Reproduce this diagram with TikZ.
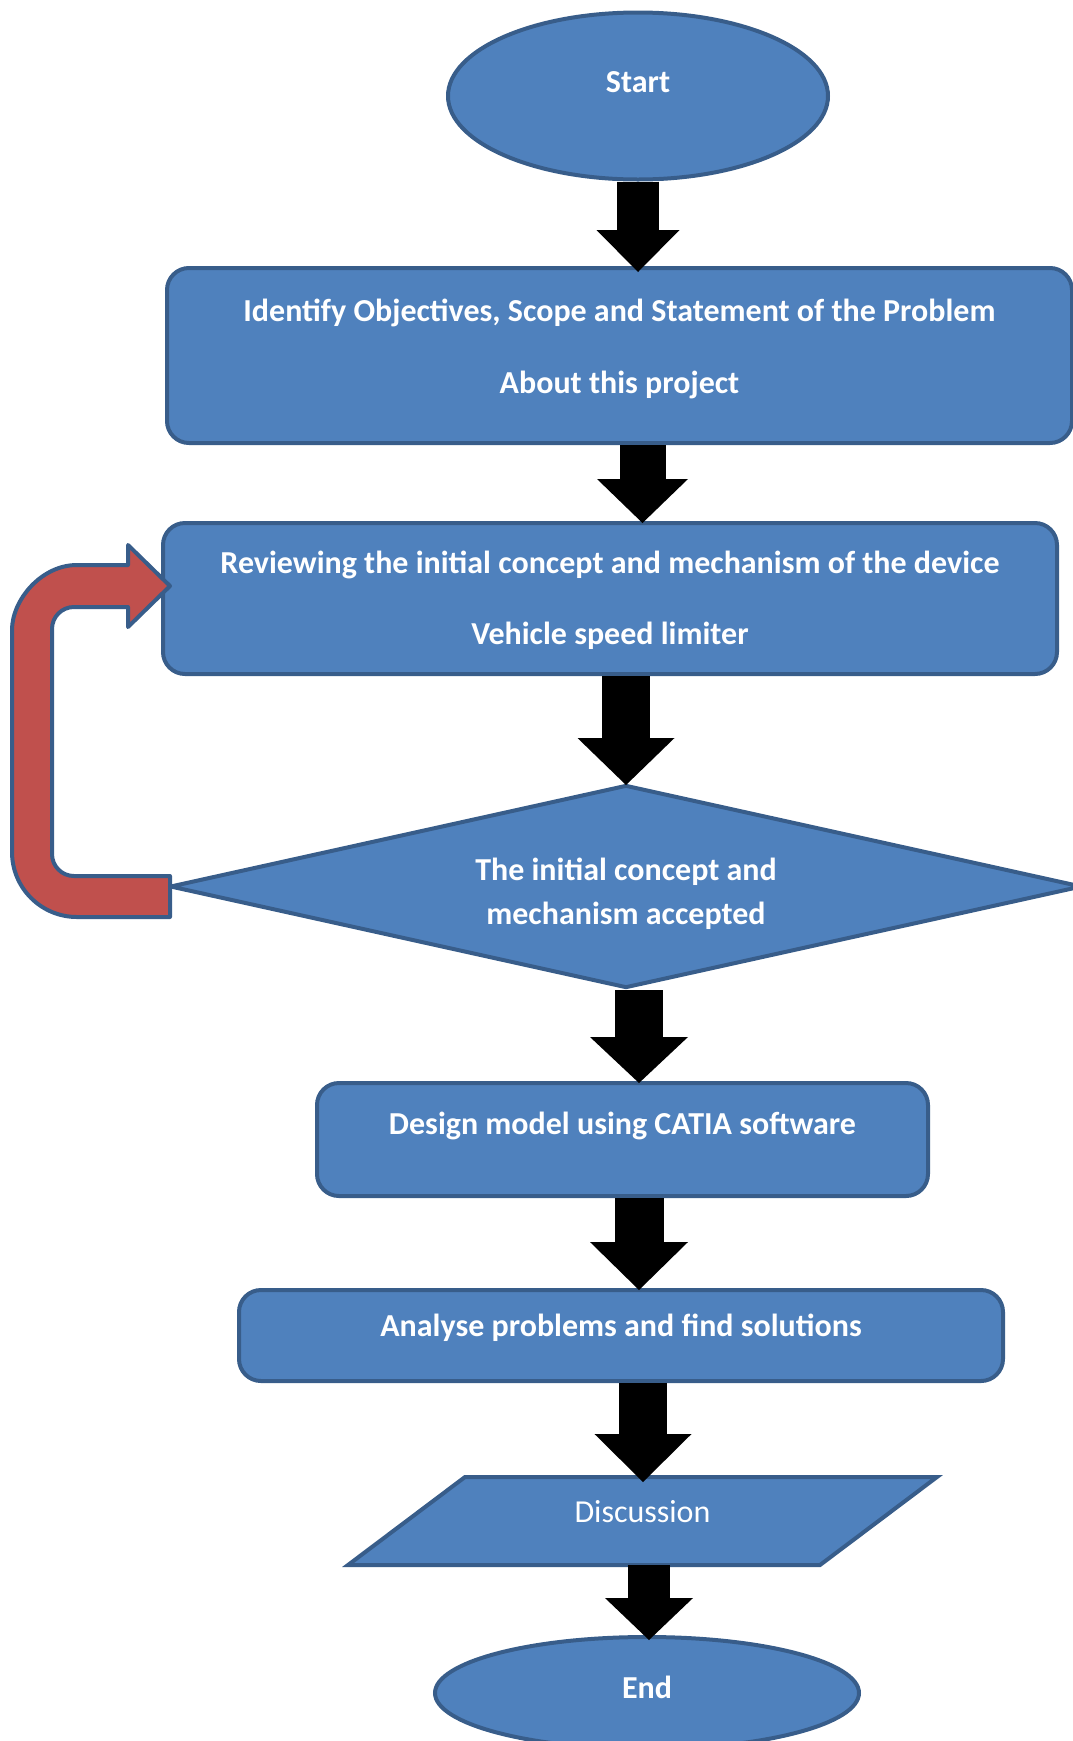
\documentclass[tikz,border=0pt]{standalone}
\usepackage{fontspec}
\setmainfont{Carlito}
\usetikzlibrary{shapes.geometric,arrows.meta,calc}
\definecolor{boxfill}{HTML}{4F81BD}
\definecolor{boxline}{HTML}{385D8A}
\definecolor{loopred}{HTML}{C0504D}
\newcommand{\upby}[2]{\raisebox{#1}[\height][\depth]{#2}}
\begin{document}
\begin{tikzpicture}[x=1pt,y=-1pt,
  shp/.style={draw=boxline, fill=boxfill, line width=4pt, text=white, inner sep=0pt,
    font=\fontsize{32}{38}\selectfont\bfseries, align=center},
  rbox/.style={shp, rectangle, rounded corners=22pt},
  oval/.style={shp, ellipse},
  dia/.style={shp, diamond, shape aspect=4.49},
  paratext/.style={inner sep=0pt, text=white, font=\fontsize{32}{38}\selectfont, minimum height=88pt, minimum width=300pt},
  blkarrow/.style n args={3}{draw=black, line width=#1, -{Triangle[width=#2,length=#3,line width=0pt]}},
  loopstyle/.style={draw=boxline, fill=loopred, line width=4pt, line join=round}
]
\useasboundingbox (0,0) rectangle (1073,1741);

% nodes
\node[oval, minimum width=380pt, minimum height=167pt] (start) at (638,96) {\upby{14pt}{Start}};
\node[rbox, minimum width=905pt, minimum height=175pt] (b1) at (619.5,355.5)
  {\upby{6.5pt}{Identify Objectives, Scope and Statement of the Problem}\\[34pt]\upby{6.5pt}{About this project}};
\node[rbox, minimum width=894pt, minimum height=151pt] (b2) at (610,598.5)
  {\upby{-2pt}{Reviewing the initial concept and mechanism of the device}\\[33pt]\upby{-2pt}{Vehicle speed limiter}};
\node[dia, minimum width=912pt, minimum height=203pt] (dec) at (626,886.5)
  {\upby{-7pt}{The initial concept and}\\[6pt]\upby{-7pt}{mechanism accepted}};
\node[rbox, minimum width=611pt, minimum height=113pt] (b3) at (622.5,1139.5)
  {\upby{14pt}{Design model using CATIA software}};
\node[rbox, minimum width=764pt, minimum height=91pt] (b4) at (621,1335.5)
  {\upby{8pt}{Analyse problems and find solutions}};
\draw[shp] (465,1477) -- (937,1477) -- (820,1565) -- (348,1565) -- cycle;
\node[paratext] (para) at (642.5,1521) {\upby{9pt}{Discussion}};
\node[oval, minimum width=424pt, minimum height=112pt] (end) at (647,1693) {\upby{6pt}{End}};

% feedback loop arrow
\path[loopstyle] (170,917) -- (77,917)
  .. controls (41.1,917) and (12,887.9) .. (12,852)
  -- (12,630)
  .. controls (12,600.1) and (41.1,565) .. (77,565)
  -- (128,565) -- (128,545) -- (170,586) -- (128,627) -- (128,607)
  -- (74,607)
  .. controls (61.8,607) and (52,616.8) .. (52,629)
  -- (52,854)
  .. controls (52,866.2) and (61.8,876) .. (74,876)
  -- (170,876) -- cycle;

% black arrows
\draw[blkarrow={42pt}{83pt}{42pt}] (start.south) -- ($(start.south |- b1.north)+(0,6)$);
\coordinate (a2) at ($(b1.south)+(23,0)$);
\draw[blkarrow={46pt}{91pt}{44pt}] (a2) -- ($(a2 |- b2.north)+(0,2)$);
\draw[blkarrow={48pt}{97pt}{47pt}] (b2.south -| dec.north) -- ($(dec.north)+(0,2)$);
\coordinate (a4) at ($(dec.south)+(13,0)$);
\draw[blkarrow={48pt}{98pt}{46pt}] (a4) -- ($(a4 |- b3.north)+(0,2)$);
\coordinate (a5) at ($(b3.south)+(16.5,0)$);
\draw[blkarrow={49pt}{98pt}{48pt}] (a5) -- ($(a5 |- b4.north)+(0,2)$);
\coordinate (a6) at ($(b4.south)+(22,0)$);
\coordinate (ptop) at (643,1477);
\draw[blkarrow={48pt}{97pt}{48pt}] (a6) -- ($(a6 |- ptop)+(0,5)$);
\coordinate (pbot) at (649,1565);
\draw[blkarrow={42pt}{88pt}{42pt}] (pbot) -- ($(pbot |- end.north)+(0,5)$);
\end{tikzpicture}
\end{document}
